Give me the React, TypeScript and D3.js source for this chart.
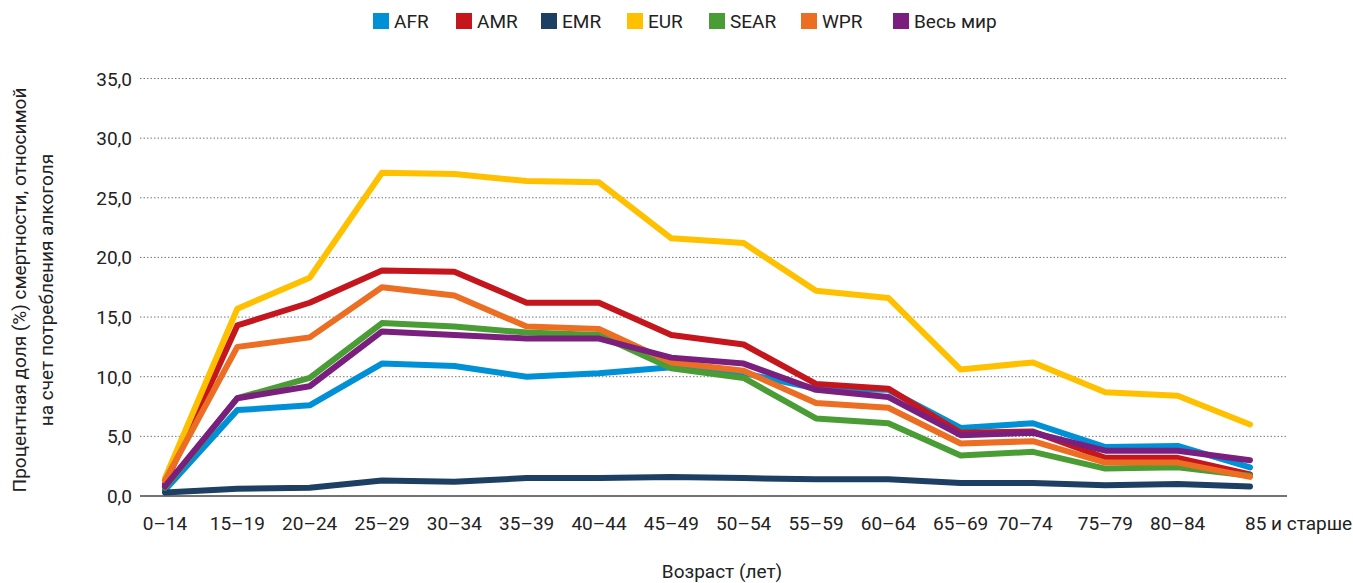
import React from "react";
import { scaleLinear, scalePoint, line } from "d3";

const ageGroups = [
  "0–14", "15–19", "20–24", "25–29", "30–34", "35–39", "40–44", "45–49",
  "50–54", "55–59", "60–64", "65–69", "70–74", "75–79", "80–84", "85 и старше",
];

const afr = [0.5, 7.2, 7.6, 11.1, 10.9, 10.0, 10.3, 10.8, 10.3, 9.0, 8.9, 5.7, 6.1, 4.1, 4.2, 2.4];
const amr = [1.0, 14.3, 16.2, 18.9, 18.8, 16.2, 16.2, 13.5, 12.7, 9.4, 9.0, 5.3, 5.4, 3.2, 3.2, 1.8];
const emr = [0.3, 0.6, 0.7, 1.3, 1.2, 1.5, 1.5, 1.6, 1.5, 1.4, 1.4, 1.1, 1.1, 0.9, 1.0, 0.8];
const eur = [1.5, 15.7, 18.3, 27.1, 27.0, 26.4, 26.3, 21.6, 21.2, 17.2, 16.6, 10.6, 11.2, 8.7, 8.4, 6.0];
const sear = [0.7, 8.2, 9.9, 14.5, 14.2, 13.7, 13.5, 10.7, 9.9, 6.5, 6.1, 3.4, 3.7, 2.3, 2.4, 1.7];
const wpr = [1.3, 12.5, 13.3, 17.5, 16.8, 14.2, 14.0, 11.2, 10.5, 7.8, 7.4, 4.4, 4.6, 2.8, 2.8, 1.6];
const world = [0.8, 8.2, 9.2, 13.8, 13.5, 13.2, 13.2, 11.6, 11.1, 8.9, 8.3, 5.1, 5.3, 3.8, 3.8, 3.0];

const seriesNames = ["AFR", "AMR", "EMR", "EUR", "SEAR", "WPR", "Весь мир"];
const seriesValues = [afr, amr, emr, eur, sear, wpr, world];
const seriesColors = ["#0090d5", "#c4161c", "#1d3f63", "#ffc000", "#4a9c35", "#eb6e23", "#7b1f7e"];

const yTicks = [0, 5, 10, 15, 20, 25, 30, 35];

// legend swatch positions and small label nudges (layout only)
const legendX = [373, 456, 541, 627, 709, 801, 893];
const labelNudge: Record<string, number> = { "70–74": -8 };

const font = "Roboto, 'Noto Sans', sans-serif";

export default function App() {
  const width = 1353;
  const height = 583;
  const plotLeft = 140;
  const plotRight = 1287;

  const x = scalePoint<string>().domain(ageGroups).range([165, 1250]);
  const y = scaleLinear().domain([0, 35]).range([496, 78.5]);

  const path = line<number>()
    .x((_, i) => x(ageGroups[i])!)
    .y((d) => y(d));

  const fmt = (v: number) => v.toFixed(1).replace(".", ",");

  return (
    <svg
      width={width}
      height={height}
      style={{ position: "absolute", left: 0, top: 0, background: "#fff" }}
      fontFamily={font}
    >
      {/* legend */}
      {seriesNames.map((name, i) => (
        <g key={name} transform={`translate(${legendX[i]}, 13)`}>
          <rect width={16} height={16} fill={seriesColors[i]} />
          <text x={21} y={14.5} fontSize={19} fill="#222">
            {name}
          </text>
        </g>
      ))}

      {/* grid + y ticks */}
      {yTicks.map((t) => (
        <g key={t}>
          <line
            x1={plotLeft}
            x2={plotRight}
            y1={y(t)}
            y2={y(t)}
            stroke={t === 0 ? "#444" : "#777"}
            strokeWidth={t === 0 ? 1.5 : 1}
            strokeDasharray={t === 0 ? undefined : "1.5 2"}
          />
          <text x={132} y={y(t) + 7} textAnchor="end" fontSize={19} fill="#222">
            {fmt(t)}
          </text>
        </g>
      ))}

      {/* x labels */}
      {ageGroups.map((g, i) => {
        const last = i === ageGroups.length - 1;
        return (
          <text
            key={g}
            x={last ? x(g)! - 5 : x(g)! + (labelNudge[g] || 0)}
            y={530}
            textAnchor={last ? "start" : "middle"}
            fontSize={19}
            fill="#222"
          >
            {g}
          </text>
        );
      })}

      {/* lines */}
      {seriesValues.map((vals, i) => (
        <path
          key={seriesNames[i]}
          d={path(vals)!}
          fill="none"
          stroke={seriesColors[i]}
          strokeWidth={6}
          strokeLinejoin="round"
          strokeLinecap="round"
        />
      ))}

      {/* axis titles */}
      <text
        transform="translate(26, 290) rotate(-90)"
        textAnchor="middle"
        fontSize={19}
        fill="#222"
      >
        Процентная доля (%) смертности, относимой
      </text>
      <text
        transform="translate(53, 290) rotate(-90)"
        textAnchor="middle"
        fontSize={19}
        fill="#222"
      >
        на счет потребления алкоголя
      </text>
      <text x={722} y={578} textAnchor="middle" fontSize={19} fill="#222">
        Возраст (лет)
      </text>
    </svg>
  );
}
